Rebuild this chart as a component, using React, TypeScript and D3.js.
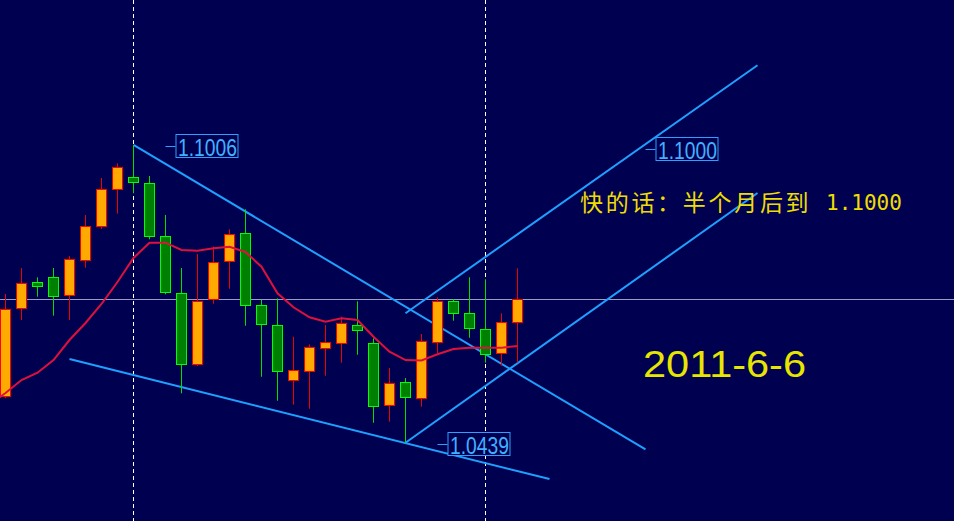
import React from "react";
import * as d3 from "d3";

const W = 954;
const H = 521;

// OHLC of the daily candles (index 0 = leftmost)
const openVals = [1.05266, 1.0695, 1.07445, 1.0754, 1.07197, 1.07864, 1.08512, 1.09216, 1.09445, 1.09331, 1.08321, 1.07236, 1.05876, 1.07121, 1.07845, 1.08378, 1.07007, 1.06626, 1.05579, 1.0575, 1.06188, 1.06283, 1.06626, 1.06283, 1.05102, 1.0554, 1.05236, 1.06302, 1.07083, 1.06855, 1.0655, 1.06093, 1.06683];
const highVals = [1.07222, 1.07717, 1.0754, 1.07717, 1.07946, 1.08727, 1.09431, 1.09711, 1.1006, 1.0947, 1.08727, 1.07717, 1.07984, 1.08123, 1.08454, 1.08835, 1.07108, 1.0714, 1.06409, 1.06264, 1.06632, 1.0679, 1.07083, 1.06378, 1.05813, 1.05622, 1.0646, 1.07159, 1.07127, 1.0754, 1.07502, 1.06855, 1.07712];
const lowVals = [1.05241, 1.06727, 1.07171, 1.06809, 1.06727, 1.07723, 1.0846, 1.08752, 1.0914, 1.08264, 1.07216, 1.05331, 1.05851, 1.07037, 1.07323, 1.06618, 1.05647, 1.0519, 1.05114, 1.05038, 1.05666, 1.05914, 1.06066, 1.04771, 1.0479, 1.0439, 1.05076, 1.06093, 1.06714, 1.0639, 1.05914, 1.05857, 1.05914];
const closeVals = [1.06931, 1.07426, 1.07361, 1.07171, 1.07883, 1.08512, 1.09216, 1.09635, 1.09342, 1.08313, 1.07247, 1.05876, 1.07083, 1.07826, 1.08359, 1.07007, 1.06645, 1.05742, 1.05769, 1.06207, 1.06302, 1.06664, 1.06531, 1.05083, 1.05514, 1.05255, 1.06321, 1.0707, 1.06855, 1.06569, 1.06074, 1.06683, 1.07114];

// moving average (starts one bar before the first visible candle)
const maStartIndex = -1;
const maVals = [1.0511, 1.05337, 1.05584, 1.05723, 1.05965, 1.06346, 1.0667, 1.07032, 1.07451, 1.07908, 1.08199, 1.08199, 1.0806, 1.08047, 1.08093, 1.08123, 1.08022, 1.07742, 1.07236, 1.06969, 1.06778, 1.06695, 1.06759, 1.06727, 1.06409, 1.06123, 1.05965, 1.05956, 1.06074, 1.06175, 1.06199, 1.06199, 1.06199, 1.06232];

// trend lines: [startIndex, startPrice, endIndex, endPrice]
const trendStartIdx = [8, 4, 25, 25];
const trendStartPrice = [1.1006, 1.05984, 1.0439, 1.06855];
const trendEndIdx = [40, 34, 47, 47];
const trendEndPrice = [1.04264, 1.03699, 1.09146, 1.11578];

// dashed vertical markers (bar index)
const markerIdx = [8, 30];

// price labels
const labelIdx = [10, 40, 27];
const labelPrice = [1.1006, 1.1, 1.0439];
const labelText = ["1.1006", "1.1000", "1.0439"];

const noteText = "快的话：半个月后到";
const noteNumber = "1.1000";
const dateText = "2011-6-6";

export default function App() {
  const x = d3.scaleLinear().domain([0, 32]).range([5.5, 517.5]);
  const y = d3.scaleLinear().domain([1.029, 1.1282]).range([H, 0]);
  const snap = (v: number) => Math.round(v - 0.5) + 0.5;

  const maLine = d3
    .line<number>()
    .x((_, i) => x(i + maStartIndex))
    .y((d) => y(d))
    .curve(d3.curveLinear);

  const lastClose = closeVals[closeVals.length - 1];

  return (
    <svg
      width={W}
      height={H}
      style={{ position: "absolute", left: 0, top: 0, display: "block" }}
    >
      <rect x={0} y={0} width={W} height={H} fill="#000050" />
      {/* last close line */}
      <line x1={0} x2={W} y1={snap(y(lastClose))} y2={snap(y(lastClose))} stroke="#9c9cc0" strokeWidth={1} />
      {/* dashed markers */}
      {markerIdx.map((m, k) => (
        <line key={"m" + k} x1={x(m)} x2={x(m)} y1={0} y2={H} stroke="#ffffff" strokeWidth={1} strokeDasharray="4,3" />
      ))}
      {/* trend lines */}
      {trendStartIdx.map((s, k) => (
        <line
          key={"t" + k}
          x1={x(s)}
          y1={y(trendStartPrice[k])}
          x2={x(trendEndIdx[k])}
          y2={y(trendEndPrice[k])}
          stroke="#1ea0ff"
          strokeWidth={2}
        />
      ))}
      {/* candles */}
      {openVals.map((o, i) => {
        const c = closeVals[i];
        const up = c >= o;
        const cx = x(i);
        const top = snap(y(Math.max(o, c)));
        const bot = snap(y(Math.min(o, c)));
        return (
          <g key={"c" + i}>
            <line x1={cx} x2={cx} y1={y(highVals[i])} y2={y(lowVals[i])} stroke={up ? "#ee0000" : "#00e000"} strokeWidth={1} />
            <rect
              x={cx - 5}
              y={top}
              width={10}
              height={Math.max(1, bot - top)}
              fill={up ? "#ffaa00" : "#008000"}
              stroke={up ? "#ff0000" : "#00ff00"}
              strokeWidth={1}
            />
          </g>
        );
      })}
      {/* moving average */}
      <path d={maLine(maVals) || ""} fill="none" stroke="#e0103c" strokeWidth={2} />
      {/* price labels */}
      {labelIdx.map((li, k) => {
        const lx = x(li);
        const ly = y(labelPrice[k]) + 1.5;
        return (
          <g key={"l" + k}>
            <line x1={lx} x2={lx + 10} y1={snap(ly)} y2={snap(ly)} stroke="#2aa0ff" strokeWidth={1} />
            <rect x={lx + 10.5} y={snap(ly - 12)} width={62} height={23} fill="#000050" stroke="#2aa0ff" strokeWidth={1} />
            <text
              x={lx + 12.5}
              y={ly + 9.5}
              fill="#40b0ff"
              fontFamily="'Liberation Sans', Arial, sans-serif"
              fontSize={24}
              textLength={59}
              lengthAdjust="spacingAndGlyphs"
            >
              {labelText[k]}
            </text>
          </g>
        );
      })}
      {/* annotation */}
      <text
        x={580}
        y={211}
        fill="#eedd00"
        fontFamily="'Noto Sans CJK SC', sans-serif"
        fontSize={23}
        letterSpacing={2.7}
      >
        {noteText}
      </text>
      <text x={826} y={210} fill="#eedd00" fontFamily="'DejaVu Sans Mono', monospace" fontSize={21}>
        {noteNumber}
      </text>
      <text
        x={643}
        y={377}
        fill="#e6e600"
        fontFamily="'Liberation Sans', Arial, sans-serif"
        fontSize={37}
        textLength={163}
        lengthAdjust="spacingAndGlyphs"
      >
        {dateText}
      </text>
    </svg>
  );
}
